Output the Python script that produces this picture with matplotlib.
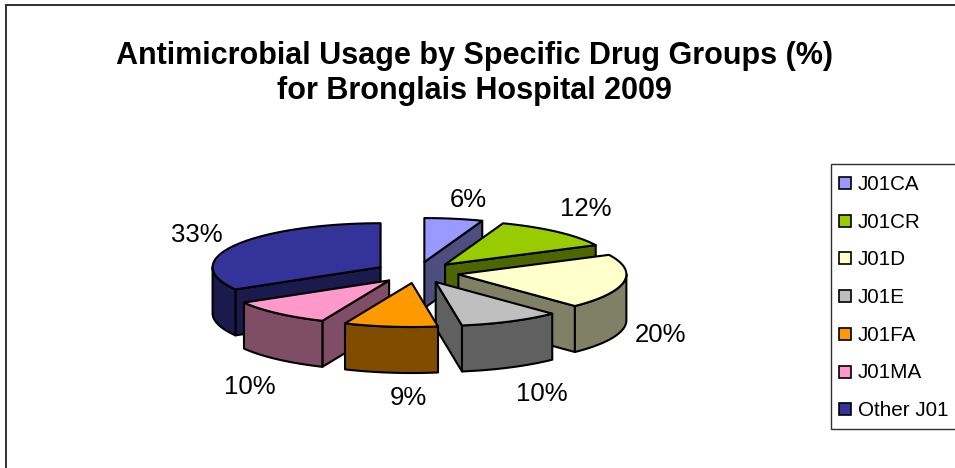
#!/usr/bin/env python3
"""Exploded 3-D style pie: antimicrobial usage by drug group, Bronglais Hospital 2009."""
import numpy as np
import matplotlib
matplotlib.use("Agg")
import matplotlib.pyplot as plt
from matplotlib.patches import Polygon, Rectangle

# ---- data --------------------------------------------------------------
GROUPS = ["J01CA", "J01CR", "J01D", "J01E", "J01FA", "J01MA", "Other J01"]
# unrounded shares as read from the slice edges; the printed labels are rounded
SHARES = [5.6, 12.1, 20.1, 9.7, 9.0, 10.1, 33.4]
SHARE_LABELS = ["6%", "12%", "20%", "10%", "9%", "10%", "33%"]
COLORS = ["#9999FF", "#99CC00", "#FFFFCC", "#BFBFBF", "#FF9900", "#FF99CC", "#333399"]
TITLE = "Antimicrobial Usage by Specific Drug Groups (%)\nfor Bronglais Hospital 2009"

# ---- layout, in reference pixels ----------------------------------------
W, H = 955, 468
CX, CY = 417, 272.5      # pie centre before exploding
RX, RY = 168, 44         # top-face ellipse
EX, EY = 42, 10.6        # explode offset
DEPTH = 46
LABEL_POS = [(468, 200), (586, 209), (660, 335), (542, 394), (408, 398), (250, 387), (197, 235)]
EDGE = dict(edgecolor="black", linewidth=1.5, joinstyle="round")


def darker(col, f=0.5):
    return tuple(c * f for c in matplotlib.colors.to_rgb(col))


def rim(apex, t):
    return apex[0] + RX * np.sin(t), apex[1] - RY * np.cos(t)


def extrude(xs, ys):
    xs, ys = np.asarray(xs), np.asarray(ys)
    return np.r_[xs, xs[::-1]], np.r_[ys, ys[::-1] + DEPTH]


def draw_wedge(ax, apex, t0, t1, col, z):
    side = darker(col)
    faces = []
    # radial walls - only those turned towards the viewer
    x0, y0 = rim(apex, t0)
    x1, y1 = rim(apex, t1)
    if np.sin(t0) < -1e-6:
        faces.append(extrude([apex[0], x0], [apex[1], y0]))
    if np.sin(t1) > 1e-6:
        faces.append(extrude([apex[0], x1], [apex[1], y1]))
    # outer wall - front half of the ellipse only
    a, b = max(t0, np.pi / 2), min(t1, 1.5 * np.pi)
    if b > a:
        xa, ya = rim(apex, np.linspace(a, b, 40))
        faces.append(extrude(xa, ya))
    for xs, ys in faces:
        ax.add_patch(Polygon(np.c_[xs, ys], facecolor=side, zorder=z, **EDGE))
    xt, yt = rim(apex, np.linspace(t0, t1, 60))
    ax.add_patch(Polygon(np.c_[np.r_[apex[0], xt], np.r_[apex[1], yt]],
                         facecolor=col, zorder=z + 0.5, **EDGE))


def main():
    plt.rcParams["font.family"] = ["Liberation Sans", "DejaVu Sans"]
    fig = plt.figure(figsize=(W / 100, H / 100), dpi=100)
    ax = fig.add_axes([0, 0, 1, 1])
    ax.set_xlim(0, W)
    ax.set_ylim(H, 0)
    ax.axis("off")

    # chart frame runs off the right and bottom of the image
    ax.add_patch(Rectangle((6, 5), W, H, facecolor="white", edgecolor="#303030",
                           linewidth=1.4, zorder=0))

    ax.text(474, 73.5, TITLE, ha="center", va="center", fontsize=22, fontweight="bold",
            linespacing=1.2)

    # slices run clockwise from 12 o'clock
    edges = np.cumsum([0] + SHARES) / sum(SHARES) * 2 * np.pi
    mids = (edges[:-1] + edges[1:]) / 2
    order = np.argsort(-np.cos(mids), kind="stable")   # back slices first
    for rank, i in enumerate(order):
        apex = (CX + EX * np.sin(mids[i]), CY - EY * np.cos(mids[i]))
        draw_wedge(ax, apex, edges[i], edges[i + 1], COLORS[i], 2 + rank)

    for label, (lx, ly) in zip(SHARE_LABELS, LABEL_POS):
        ax.text(lx, ly, label, ha="center", va="center", fontsize=18.5, zorder=20)

    # legend drawn by hand so spacing matches the reference box
    ax.add_patch(Rectangle((830.5, 163.5), W, 265, facecolor="white", edgecolor="#303030",
                           linewidth=1, zorder=20))
    for i, (name, col) in enumerate(zip(GROUPS, COLORS)):
        y = 183 + i * 37.7
        ax.add_patch(Rectangle((839, y - 6), 12, 12, facecolor=col, edgecolor="black",
                               linewidth=1.2, zorder=21))
        ax.text(858, y + 1.5, name, ha="left", va="center", fontsize=14.9, zorder=21)

    fig.savefig("out.png", dpi=100)
    plt.close(fig)


if __name__ == "__main__":
    main()
